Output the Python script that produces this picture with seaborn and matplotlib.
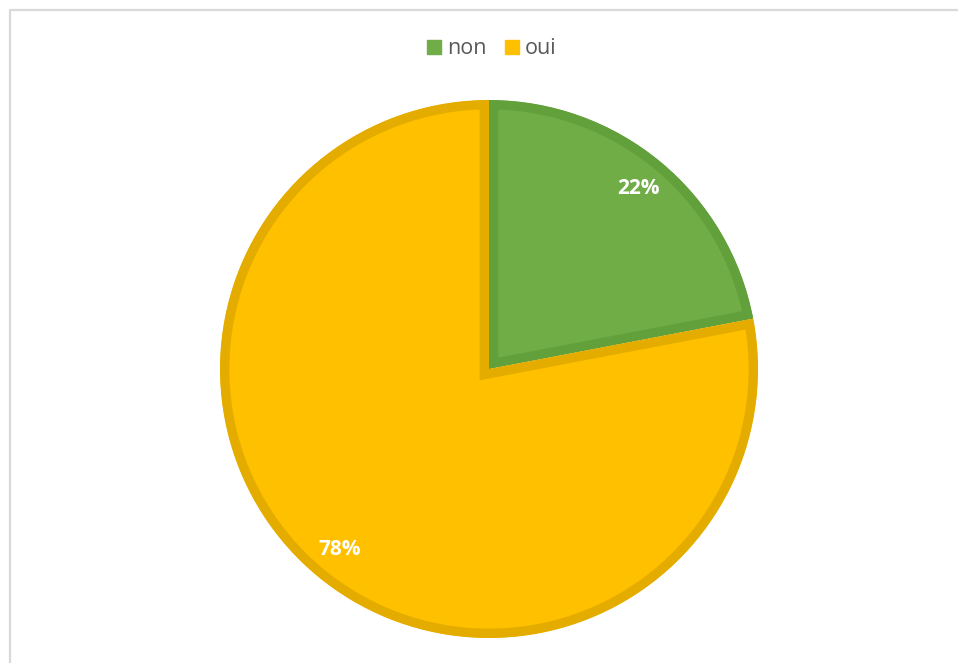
import matplotlib
matplotlib.use("Agg")
import matplotlib.pyplot as plt
from matplotlib.lines import Line2D
import seaborn as sns

labels = ["non", "oui"]
values = [22, 78]
fill_colors = ["#70AD47", "#FFC000"]
edge_colors = ["#62A03B", "#E5AC00"]

sns.set_theme(style="white")
plt.rcParams['font.family'] = ['Open Sans', 'DejaVu Sans']

W, H = 958, 663
fig = plt.figure(figsize=(W / 100, H / 100), dpi=100)
fig.patch.set_facecolor("white")

cx, cy, r = 489, 369, 269
ax = fig.add_axes([(cx - r) / W, (H - cy - r) / H, 2 * r / W, 2 * r / H])
wedges, texts, autotexts = ax.pie(
    values, colors=fill_colors, startangle=90, counterclock=False,
    autopct=lambda p: f"{p:.0f}%", pctdistance=0.87, radius=1,
    wedgeprops=dict(linewidth=13.5),
    textprops=dict(color="white", fontsize=15, fontweight="bold"))
for w, ec in zip(wedges, edge_colors):
    w.set_edgecolor(ec)
    w.set_clip_path(w)
    w.set_clip_on(True)
ax.set_xlim(-1, 1)
ax.set_ylim(-1, 1)
ax.set_aspect("equal")
ax.axis("off")

# chart area border (top and left visible)
border = "#D9D9D9"
fig.add_artist(Line2D([9.5 / W, 9.5 / W], [0, 1 - 10 / H], color=border, lw=1.6))
fig.add_artist(Line2D([9.5 / W, 1], [1 - 10 / H, 1 - 10 / H], color=border, lw=1.6))

handles = [Line2D([], [], marker="s", linestyle="none", markersize=10,
                  markerfacecolor=c, markeredgecolor=c) for c in fill_colors]
leg = fig.legend(handles, labels, loc="center", bbox_to_anchor=(491 / W, 1 - 49 / H),
                 ncol=2, frameon=False, fontsize=15.5, handlelength=0.8,
                 handletextpad=0.2, columnspacing=0.8, labelcolor="#595959")

fig.savefig("out.png", dpi=100)
